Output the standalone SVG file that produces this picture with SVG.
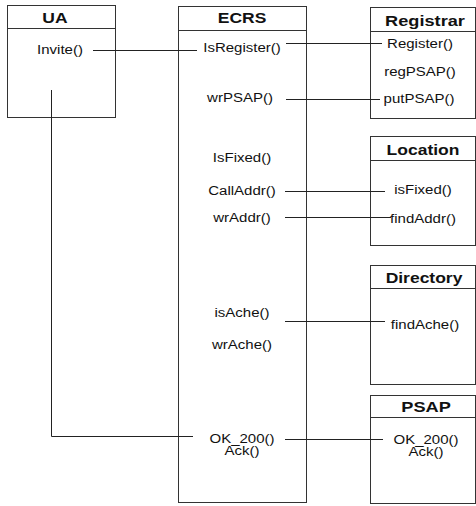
<svg xmlns="http://www.w3.org/2000/svg" width="476" height="506" viewBox="0 0 476 506">
<style>
.box{fill:#fff;stroke:#333;stroke-width:1}
.div{stroke:#333;stroke-width:1}
.hd{font-family:"Liberation Sans",Arial,sans-serif;font-size:14px;font-weight:bold;fill:#111;text-anchor:middle}
.m{font-family:"Liberation Sans",Arial,sans-serif;font-size:12px;fill:#111;text-anchor:middle}
.c{fill:none;stroke:#222;stroke-width:1}
</style>
<rect width="476" height="506" fill="#fff"/>
<g id="UA">
<rect class="box" x="7.5" y="5.5" width="108" height="112"/>
<line class="div" x1="7.5" y1="28.5" x2="115.5" y2="28.5"/>
<text class="hd" transform="translate(55,23) scale(1.25,1)">UA</text>
<text class="m" transform="translate(60,54) scale(1.25,1)">Invite()</text>
</g>
<g id="ECRS">
<rect class="box" x="178.5" y="6.5" width="128" height="496"/>
<line class="div" x1="178.5" y1="30.5" x2="306.5" y2="30.5"/>
<text class="hd" transform="translate(242,23) scale(1.25,1)">ECRS</text>
<text class="m" transform="translate(242,52) scale(1.25,1)">IsRegister()</text>
<text class="m" transform="translate(240,102) scale(1.25,1)">wrPSAP()</text>
<text class="m" transform="translate(242,162) scale(1.25,1)">IsFixed()</text>
<text class="m" transform="translate(242,195) scale(1.25,1)">CallAddr()</text>
<text class="m" transform="translate(242,222) scale(1.25,1)">wrAddr()</text>
<text class="m" transform="translate(242,317) scale(1.25,1)">isAche()</text>
<text class="m" transform="translate(242,349) scale(1.25,1)">wrAche()</text>
<text class="m" transform="translate(242,443) scale(1.25,1)">OK_200()</text>
<text class="m" transform="translate(242,455) scale(1.25,1)">Ack()</text>
</g>
<g id="Registrar">
<rect class="box" x="370.5" y="7.5" width="105" height="111"/>
<line class="div" x1="370.5" y1="31.5" x2="475.5" y2="31.5"/>
<text class="hd" transform="translate(425,26) scale(1.3,1)">Registrar</text>
<text class="m" transform="translate(420,48) scale(1.25,1)">Register()</text>
<text class="m" transform="translate(420,76) scale(1.25,1)">regPSAP()</text>
<text class="m" transform="translate(419,103) scale(1.25,1)">putPSAP()</text>
</g>
<g id="Location">
<rect class="box" x="370.5" y="136.5" width="105" height="109"/>
<line class="div" x1="370.5" y1="160.5" x2="475.5" y2="160.5"/>
<text class="hd" transform="translate(423,155) scale(1.25,1)">Location</text>
<text class="m" transform="translate(423,194) scale(1.25,1)">isFixed()</text>
<text class="m" transform="translate(423,223) scale(1.25,1)">findAddr()</text>
</g>
<g id="Directory">
<rect class="box" x="370.5" y="265.5" width="105" height="119"/>
<line class="div" x1="370.5" y1="288.5" x2="475.5" y2="288.5"/>
<text class="hd" transform="translate(424,283) scale(1.25,1)">Directory</text>
<text class="m" transform="translate(425,329) scale(1.25,1)">findAche()</text>
</g>
<g id="PSAP">
<rect class="box" x="370.5" y="395.5" width="105" height="108"/>
<line class="div" x1="370.5" y1="417.5" x2="475.5" y2="417.5"/>
<text class="hd" transform="translate(426,412) scale(1.3,1)">PSAP</text>
<text class="m" transform="translate(426,444) scale(1.25,1)">OK_200()</text>
<text class="m" transform="translate(426,456) scale(1.25,1)">Ack()</text>
</g>
<g id="connectors">
<line class="c" x1="93" y1="50.5" x2="197" y2="50.5"/>
<line class="c" x1="286" y1="43.5" x2="382" y2="43.5"/>
<line class="c" x1="286" y1="99.5" x2="380" y2="99.5"/>
<line class="c" x1="285" y1="191.5" x2="385" y2="191.5"/>
<line class="c" x1="285" y1="217.5" x2="391" y2="217.5"/>
<line class="c" x1="285" y1="321.5" x2="385" y2="321.5"/>
<polyline class="c" points="51.5,90 51.5,436.5 193,436.5"/>
<line class="c" x1="285" y1="439.5" x2="383" y2="439.5"/>
</g>
</svg>
